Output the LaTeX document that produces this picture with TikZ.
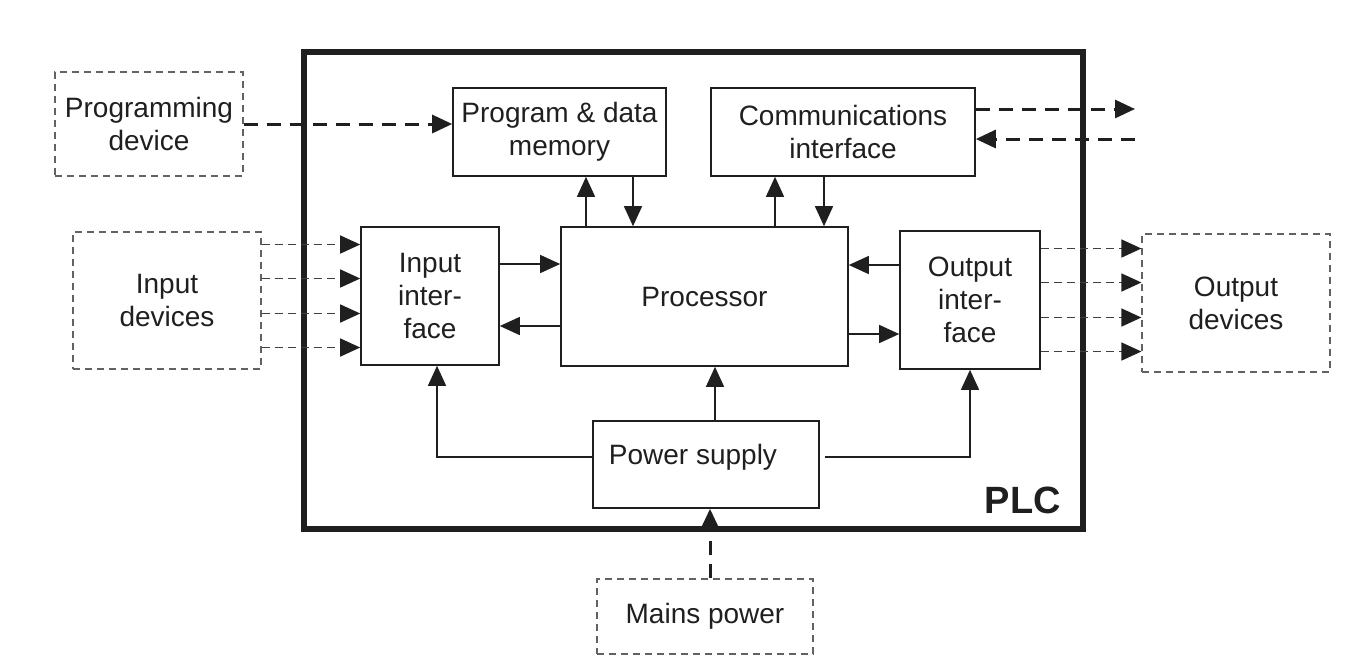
\documentclass[tikz,border=0pt]{standalone}
\usepackage{fontspec}
\setmainfont{Liberation Sans}
\usetikzlibrary{arrows.meta}
\definecolor{ink}{gray}{0.12}

\begin{document}
\begin{tikzpicture}[x=0.5pt,y=-0.5pt,
  every node/.style={font=\fontsize{14}{16.5}\selectfont, text=ink, align=center},
  blk/.style={draw=ink, line width=0.8pt, inner sep=0pt},
  ext/.style={draw=ink!70, line width=0.6pt, dash pattern=on 3.5pt off 2.5pt, inner sep=0pt},
  arr/.style={draw=ink, line width=0.7pt, -{Triangle[length=10pt,width=9pt]}},
  darr/.style={draw=ink!85, line width=0.75pt, dash pattern=on 4pt off 2.5pt, -{Triangle[length=10pt,width=9pt,color=ink]}},
  tarr/.style={draw=ink, line width=1.5pt, dash pattern=on 7pt off 4.5pt, -{Triangle[length=10pt,width=9pt]}}]
\useasboundingbox (0,0) rectangle (1363,666);
%----PLC frame------------------------------------
\node[draw=ink, line width=3pt, minimum width=389.5pt, minimum height=238.5pt] (plc) at (693.5,290.5) {};
\node[anchor=base east, font=\fontsize{19}{22}\selectfont\bfseries] (plctxt) at ([xshift=-9pt,yshift=9.5pt]plc.south east) {PLC};
%----blocks inside---------------------------------
\node[blk, minimum width=106.5pt, minimum height=44pt] (mem) at (559.5,132) {Program \& data\\memory};
\node[blk, minimum width=132pt, minimum height=44pt] (comm) at (843,132) {Communications\\interface};
\node[blk, minimum width=69pt, minimum height=69pt] (inif) at (430,296) {Input\\inter-\\face};
\node[blk, minimum width=143.5pt, minimum height=69.5pt] (proc) at (704.5,296.5) {Processor};
\node[blk, minimum width=70pt, minimum height=69pt] (outif) at (970,300) {Output\\inter-\\face};
\node[blk, minimum width=113pt, minimum height=43.5pt] (power) at (706,464.5) {};
\node (powtxt) at ([xshift=-6.5pt,yshift=3.75pt]power.center) {Power supply};
%----outside devices-------------------------------
\node[ext, minimum width=94pt, minimum height=52pt] (prog) at (149,124) {Programming\\device};
\node[ext, minimum width=94pt, minimum height=68.5pt] (indev) at (167,300.5) {Input\\devices};
\node[ext, minimum width=94pt, minimum height=69pt] (outdev) at (1236,303) {Output\\devices};
\node[ext, minimum width=108pt, minimum height=37.5pt] (mains) at (705,616.5) {Mains power};
\coordinate (cout) at (1135,109);
\coordinate (cin) at (1135,139);
%----dashed links----------------------------------
\draw[tarr] (prog.east) -- (prog.east -| mem.west);
\draw[tarr] (comm.east |- cout) -- (cout);
\draw[tarr] (cin) -- (cin -| comm.east);
\draw[tarr] ([xshift=2.5pt]mains.north) -- ([xshift=2.5pt]mains.north |- power.south);
\foreach \dy [count=\i] in {25.75,8.75,-8.75,-25.75}{
  \coordinate (in\i) at ([yshift=\dy pt]inif.west);
  \coordinate (out\i) at ([yshift=\dy pt]outif.east);
  \draw[darr] (indev.east |- in\i) -- (in\i);
  \draw[darr] (out\i) -- (out\i -| outdev.west);
}
%----processor links-------------------------------
\draw[arr] ([xshift=13.25pt]mem.south |- proc.north) -- ([xshift=13.25pt]mem.south);
\draw[arr] ([xshift=36.75pt]mem.south) -- ([xshift=36.75pt]mem.south |- proc.north);
\draw[arr] ([xshift=-34pt]comm.south |- proc.north) -- ([xshift=-34pt]comm.south);
\draw[arr] ([xshift=-9.5pt]comm.south) -- ([xshift=-9.5pt]comm.south |- proc.north);
\draw[arr] ([yshift=16pt]inif.east) -- ([yshift=16pt]inif.east -| proc.west);
\draw[arr] ([yshift=-15pt]inif.east -| proc.west) -- ([yshift=-15pt]inif.east);
\draw[arr] ([yshift=17.5pt]outif.west) -- ([yshift=17.5pt]outif.west -| proc.east);
\draw[arr] ([yshift=-17pt]outif.west -| proc.east) -- ([yshift=-17pt]outif.west);
%----power supply----------------------------------
\draw[arr] ([yshift=3.75pt]power.west) -| ([xshift=3.5pt]inif.south);
\draw[arr] ([xshift=4.5pt]power.north) -- ([xshift=4.5pt]power.north |- proc.south);
\draw[arr] ([xshift=2.5pt,yshift=3.75pt]power.east) -| (outif.south);
\end{tikzpicture}
\end{document}
